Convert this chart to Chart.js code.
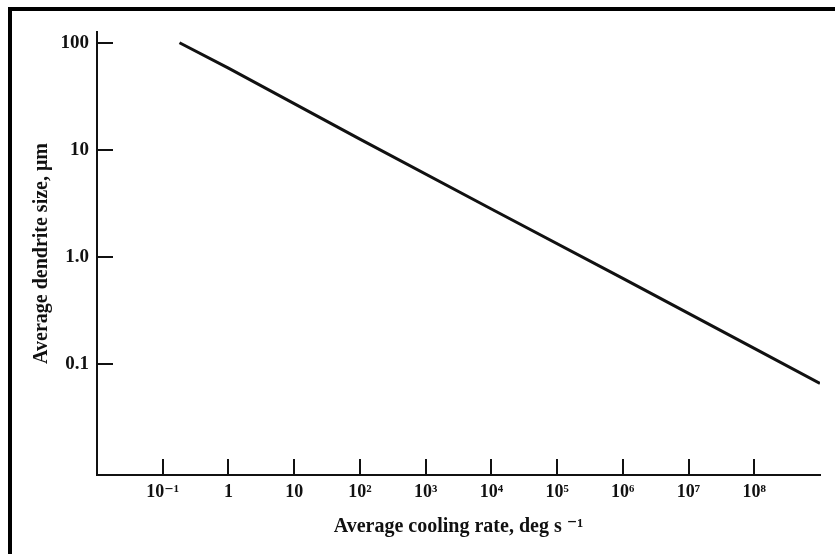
<!DOCTYPE html>
<html>
<head>
<meta charset="utf-8">
<script src="https://cdn.jsdelivr.net/npm/chart.js@4/dist/chart.umd.min.js"></script>
<style>
  html, body { margin: 0; padding: 0; background: #fff; }
  #wrap { width: 835px; height: 554px; position: relative; }
</style>
</head>
<body>
<div id="wrap"><canvas id="c" width="835" height="554"></canvas></div>
<script>
// Data
const coolingRates = [0.18, 1, 1e2, 1e4, 1e6, 1e8, 1e9];
const dendriteSizes = [100, 58, 12.6, 2.8, 0.63, 0.14, 0.066];

const xTickValues = [1e-1, 1, 1e1, 1e2, 1e3, 1e4, 1e5, 1e6, 1e7, 1e8];
const xTickLabels = ['10\u207B\u00B9', '1', '10', '10\u00B2', '10\u00B3', '10\u2074', '10\u2075', '10\u2076', '10\u2077', '10\u2078'];
const yTickValues = [0.1, 1, 10, 100];
const yTickLabels = ['0.1', '1.0', '10', '100'];

const xTitle = 'Average cooling rate, deg s \u207B\u00B9';
const yTitle = 'Average dendrite size, \u03BCm';

const ink = '#111111';
const serif = "'Liberation Serif', 'DejaVu Serif', serif";

const points = coolingRates.map((x, i) => ({ x: x, y: dendriteSizes[i] }));

const frameAndTicks = {
  id: 'frameAndTicks',
  afterDraw(chart) {
    const ctx = chart.ctx;
    ctx.save();
    // scanned page frame (left and top)
    ctx.fillStyle = '#000';
    ctx.fillRect(8, 7, 4, 547);
    ctx.fillRect(8, 7, 827, 4);
    // inward tick marks
    ctx.strokeStyle = ink;
    ctx.lineWidth = 2;
    const xs = chart.scales.x, ys = chart.scales.y;
    const area = chart.chartArea;
    xs.ticks.forEach(t => {
      const px = Math.round(xs.getPixelForValue(t.value));
      ctx.beginPath();
      ctx.moveTo(px, area.bottom);
      ctx.lineTo(px, area.bottom - 16);
      ctx.stroke();
    });
    ys.ticks.forEach(t => {
      const py = Math.round(ys.getPixelForValue(t.value));
      ctx.beginPath();
      ctx.moveTo(area.left, py);
      ctx.lineTo(area.left + 16, py);
      ctx.stroke();
    });
    ctx.restore();
  }
};

new Chart(document.getElementById('c'), {
  type: 'scatter',
  data: {
    datasets: [{
      data: points,
      showLine: true,
      borderColor: ink,
      borderWidth: 3,
      pointRadius: 0,
      fill: false,
      tension: 0
    }]
  },
  options: {
    responsive: false,
    animation: false,
    devicePixelRatio: 1,
    layout: { padding: { top: 32, right: 15, left: 0, bottom: 0 } },
    plugins: { legend: { display: false }, tooltip: { enabled: false } },
    scales: {
      x: {
        type: 'logarithmic',
        min: 0.01,
        max: 1e9,
        afterBuildTicks: s => { s.ticks = xTickValues.map(v => ({ value: v })); },
        afterFit: s => { s.height = 79; },
        border: { display: true, color: ink, width: 2 },
        grid: { drawOnChartArea: false, drawTicks: false },
        ticks: {
          autoSkip: false,
          maxRotation: 0,
          padding: 7,
          color: ink,
          font: { family: serif, size: 18, weight: 'bold' },
          callback: (v) => { const i = xTickValues.indexOf(v); return i >= 0 ? xTickLabels[i] : ''; }
        },
        title: {
          display: true,
          text: xTitle,
          color: ink,
          font: { family: serif, size: 20, weight: 'bold' },
          padding: { top: 0, bottom: 15 }
        }
      },
      y: {
        type: 'logarithmic',
        min: 0.0092,
        max: 126,
        afterBuildTicks: s => { s.ticks = yTickValues.map(v => ({ value: v })); },
        afterFit: s => { s.width = 97; },
        border: { display: true, color: ink, width: 2 },
        grid: { drawOnChartArea: false, drawTicks: false },
        ticks: {
          autoSkip: false,
          padding: 8,
          color: ink,
          font: { family: serif, size: 19, weight: 'bold' },
          callback: (v) => { const i = yTickValues.indexOf(v); return i >= 0 ? yTickLabels[i] : ''; }
        },
        title: {
          display: true,
          text: yTitle,
          color: ink,
          font: { family: serif, size: 20, weight: 'bold' },
          padding: { top: 30, bottom: 0 }
        }
      }
    }
  },
  plugins: [frameAndTicks]
});
</script>
</body>
</html>
